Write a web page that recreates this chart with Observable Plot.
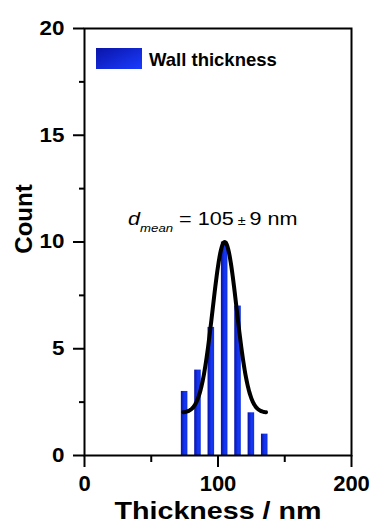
<!DOCTYPE html>
<html>
<head>
<meta charset="utf-8">
<script src="https://cdn.jsdelivr.net/npm/d3@7"></script>
<script src="https://cdn.jsdelivr.net/npm/@observablehq/plot@0.6"></script>
<style>
  body { margin: 0; background: #fff; }
  #chart { width: 372px; height: 527px; }
</style>
</head>
<body>
<div id="chart"></div>
<script>
// Histogram of wall thickness (10 nm bins) with a Gaussian fit
const binStarts = [70, 80, 90, 100, 110, 120, 130];
const binWidth = 10;
const counts = [3, 4, 6, 10, 7, 2, 1];

// Gaussian fit: base + amplitude * exp(-(x - mean)^2 / (2 sigma^2))
const fitMean = 105;
const fitSigma = 9;
const fitBase = 2;
const fitAmplitude = 8;
const fitRange = [74, 136];

const yTicks = [0, 5, 10, 15, 20];
const yMinorTicks = [2.5, 7.5, 12.5, 17.5];
const xTicks = [0, 100, 200];
const xMinorTicks = [50, 150];

const seriesName = "Wall thickness";
const xTitle = "Thickness / nm";
const yTitle = "Count";

const bins = binStarts.map((x0, i) => ({x0, x1: x0 + binWidth, count: counts[i]}));
const fit = d3.range(fitRange[0], fitRange[1] + 1e-9, 0.5).map(x => ({
  x,
  y: fitBase + fitAmplitude * Math.exp(-((x - fitMean) ** 2) / (2 * fitSigma ** 2))
}));

const font = "Arial, 'Liberation Sans', sans-serif";

const chart = Plot.plot({
  width: 372,
  height: 527,
  marginLeft: 84,
  marginRight: 21,
  marginTop: 28,
  marginBottom: 72,
  style: {fontFamily: font, color: "black", background: "white"},
  x: {domain: [0, 200]},
  y: {domain: [0, 20]},
  marks: [
    Plot.rectY(bins, {x1: "x0", x2: "x1", y: "count", insetLeft: 3.4, insetRight: 3.4, fill: "url(#barGrad)"}),
    Plot.line(fit, {x: "x", y: "y", stroke: "black", strokeWidth: 4, curve: "natural"}),
    Plot.frame({stroke: "black", strokeWidth: 2}),
    Plot.axisY({ticks: yTicks, tickSize: 11, tickPadding: 9, strokeWidth: 2, fontSize: 20, fontWeight: "bold", label: null}),
    Plot.axisY({ticks: yMinorTicks, tickSize: 5, strokeWidth: 2, text: null, label: null}),
    Plot.axisX({ticks: xTicks, tickSize: 12, tickPadding: 8, strokeWidth: 2, fontSize: 22, fontWeight: "bold", label: null}),
    Plot.axisX({ticks: xMinorTicks, tickSize: 7, strokeWidth: 2, text: null, label: null}),
    Plot.text([xTitle], {frameAnchor: "bottom", dy: 56, fontSize: 23.5, fontWeight: "bold", lineAnchor: "middle", className: "x-title"}),
    Plot.text([yTitle], {frameAnchor: "left", dx: -60, dy: -23, rotate: -90, textAnchor: "middle", fontSize: 24, fontWeight: "bold", lineAnchor: "middle"})
  ]
});

const svg = d3.select(chart);
const defs = svg.insert("defs", ":first-child");
const grad = defs.append("linearGradient").attr("id", "barGrad").attr("x1", "0").attr("x2", "1").attr("y1", "0").attr("y2", "0");
grad.append("stop").attr("offset", "0%").attr("stop-color", "#0812a6");
grad.append("stop").attr("offset", "60%").attr("stop-color", "#1538f6");
grad.append("stop").attr("offset", "100%").attr("stop-color", "#1030e0");
const lgrad = defs.append("linearGradient").attr("id", "legendGrad").attr("x1", "0").attr("x2", "1").attr("y1", "0").attr("y2", "1");
lgrad.append("stop").attr("offset", "0%").attr("stop-color", "#0a14a8");
lgrad.append("stop").attr("offset", "100%").attr("stop-color", "#1a3cff");

// widen a text element horizontally about its anchor point
function stretch(sel, s) {
  sel.each(function() {
    const t = this.getAttribute("transform") || "";
    this.setAttribute("transform", t + ` scale(${s},1)`);
  });
}
stretch(svg.selectAll('g[aria-label="y-axis tick label"] text'), 1.12);
stretch(svg.selectAll("g.x-title text"), 1.22);

const sx = chart.scale("x"), sy = chart.scale("y");
const frameLeft = sx.apply(0), frameTop = sy.apply(20);

// legend inside the frame
svg.append("rect").attr("x", frameLeft + 12).attr("y", frameTop + 20).attr("width", 46).attr("height", 21).attr("fill", "url(#legendGrad)");
svg.append("text").attr("x", frameLeft + 65).attr("y", frameTop + 37.5)
  .attr("text-anchor", "start").attr("font-family", font).attr("font-size", 18.5).attr("font-weight", "bold").text(seriesName);

// mean ± sd annotation above the peak
const note = svg.append("text")
  .attr("transform", `translate(${sx.apply(96.5)},${sy.apply(10.75)}) scale(1.2,1)`)
  .attr("text-anchor", "middle").attr("font-family", font).attr("font-size", 18);
note.append("tspan").attr("font-style", "italic").text("d");
note.append("tspan").attr("font-style", "italic").attr("font-size", 11).attr("dy", 7).text("mean");
note.append("tspan").attr("dy", -7).text(" = " + fitMean);
note.append("tspan").attr("font-size", 12).text(" ± ");
note.append("tspan").text(fitSigma + " nm");

document.getElementById("chart").appendChild(chart);
</script>
</body>
</html>
